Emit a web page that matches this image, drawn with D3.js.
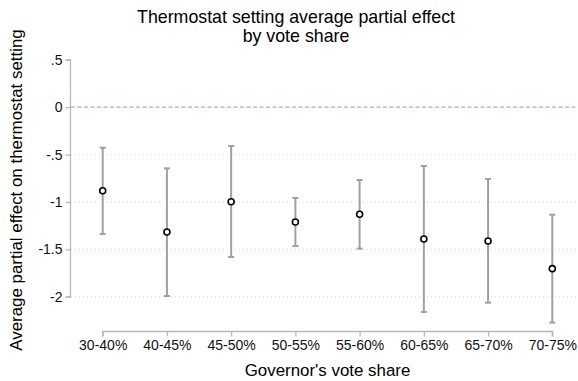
<!DOCTYPE html>
<html>
<head>
<meta charset="utf-8">
<script src="https://cdn.jsdelivr.net/npm/d3@7"></script>
<style>
  html, body { margin: 0; padding: 0; background: #fff; }
  svg { display: block; font-family: "Liberation Sans", Arial, sans-serif; }
</style>
</head>
<body>
<svg id="chart" width="578" height="381"></svg>
<script>
// Vote-share bins and average partial effects with confidence bounds
const categories = ["30-40%", "40-45%", "45-50%", "50-55%", "55-60%", "60-65%", "65-70%", "70-75%"];
const estimates  = [-0.881, -1.316, -0.997, -1.211, -1.130, -1.390, -1.411, -1.703];
const lowerCI    = [-1.338, -1.992, -1.580, -1.464, -1.492, -2.160, -2.062, -2.272];
const upperCI    = [-0.427, -0.645, -0.409, -0.958, -0.768, -0.620, -0.757, -1.134];
const yTicks     = [0.5, 0, -0.5, -1, -1.5, -2];
const yTickLabels = [".5", "0", "-.5", "-1", "-1.5", "-2"];
const gridValues = [-0.5, -1, -1.5, -2];
const refValue   = 0;

const svg = d3.select("#chart");

const x = d3.scalePoint().domain(categories).range([102.7, 552.3]);
const y = d3.scaleLinear().domain([-2, 0.5]).range([296.8, 59.8]);

const axisColor = "#b8b8b8";
const tickFont = 14;

// Horizontal dotted grid lines
svg.append("g").selectAll("line").data(gridValues).join("line")
  .attr("x1", 71).attr("x2", 578)
  .attr("y1", d => y(d)).attr("y2", d => y(d))
  .attr("stroke", "#d4d4d4").attr("stroke-width", 1)
  .attr("stroke-dasharray", "1,3");

// Reference line at zero
svg.append("line")
  .attr("x1", 71).attr("x2", 578)
  .attr("y1", y(refValue)).attr("y2", y(refValue))
  .attr("stroke", "#d99ab8").attr("stroke-width", 1.2)
  .attr("stroke-dasharray", "4,2.5");

// Y axis
const yAxis = d3.axisLeft(y).tickValues(yTicks)
  .tickFormat((d, i) => yTickLabels[i]).tickSize(5).tickPadding(3);
const gy = svg.append("g").attr("transform", "translate(70.5,0)").call(yAxis);
gy.select(".domain").attr("stroke", axisColor).attr("stroke-width", 1.3)
  .attr("d", `M-5,${y(0.5)}H0V${y(-2)}H-5`);
gy.selectAll(".tick line").attr("stroke", axisColor).attr("stroke-width", 1.3);
gy.selectAll(".tick text").attr("fill", "#111").attr("font-size", tickFont)
  .attr("font-family", "Liberation Sans, Arial, sans-serif");

// X axis
const xAxis = d3.axisBottom(x).tickSize(5).tickPadding(3.5);
const gx = svg.append("g").attr("transform", "translate(0,331.5)").call(xAxis);
gx.select(".domain").attr("stroke", axisColor).attr("stroke-width", 1.3)
  .attr("d", `M${x(categories[0])},5V0H${x(categories[categories.length - 1])}V5`);
gx.selectAll(".tick line").attr("stroke", axisColor).attr("stroke-width", 1.3);
gx.selectAll(".tick text").attr("fill", "#111").attr("font-size", tickFont)
  .attr("font-family", "Liberation Sans, Arial, sans-serif");

// Confidence intervals with caps
const rows = categories.map((c, i) => ({ c, est: estimates[i], lo: lowerCI[i], hi: upperCI[i] }));
const bars = svg.append("g").attr("stroke", "#a0a0a0").attr("stroke-width", 2);
bars.selectAll("line.v").data(rows).join("line").attr("class", "v")
  .attr("x1", d => x(d.c)).attr("x2", d => x(d.c))
  .attr("y1", d => y(d.hi)).attr("y2", d => y(d.lo));
bars.selectAll("line.top").data(rows).join("line").attr("class", "top")
  .attr("x1", d => x(d.c) - 3).attr("x2", d => x(d.c) + 3)
  .attr("y1", d => y(d.hi)).attr("y2", d => y(d.hi));
bars.selectAll("line.bot").data(rows).join("line").attr("class", "bot")
  .attr("x1", d => x(d.c) - 3).attr("x2", d => x(d.c) + 3)
  .attr("y1", d => y(d.lo)).attr("y2", d => y(d.lo));

// Point estimates
svg.append("g").selectAll("circle").data(rows).join("circle")
  .attr("cx", d => x(d.c)).attr("cy", d => y(d.est)).attr("r", 3)
  .attr("fill", "#fff").attr("stroke", "#000").attr("stroke-width", 1.6);

// Titles
const title = svg.append("text").attr("text-anchor", "middle")
  .attr("font-size", 17.8).attr("fill", "#000");
title.append("tspan").attr("x", 296).attr("y", 22.5).text("Thermostat setting average partial effect");
title.append("tspan").attr("x", 296).attr("y", 42).text("by vote share");

svg.append("text").attr("x", 327.5).attr("y", 375.5).attr("text-anchor", "middle")
  .attr("font-size", 16.9).attr("fill", "#000").text("Governor's vote share");

svg.append("text").attr("transform", "translate(21.7,190) rotate(-90)")
  .attr("text-anchor", "middle").attr("font-size", 16.9).attr("fill", "#000")
  .text("Average partial effect on thermostat setting");
</script>
</body>
</html>
